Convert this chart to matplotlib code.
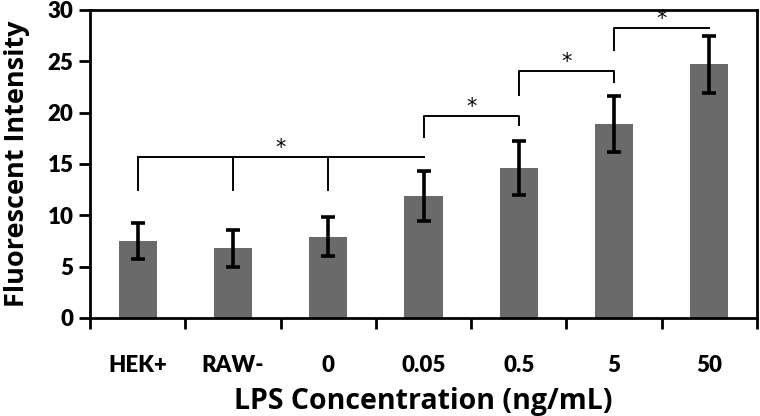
import numpy as np
import matplotlib.pyplot as plt

plt.rcParams['font.family'] = ['Lato', 'DejaVu Sans']

labels = ['HEK+', 'RAW-', '0', '0.05', '0.5', '5', '50']
means = [7.5, 6.8, 7.9, 11.9, 14.6, 18.9, 24.7]
errs = [1.8, 1.8, 1.9, 2.45, 2.6, 2.75, 2.8]

fig = plt.figure(figsize=(7.6, 4.16), dpi=100)
ax = fig.add_axes([90/760, 98/416, 667/760, 308/416])

x = np.arange(len(labels))
ax.bar(x, means, width=0.4, color='#6a6a6a', zorder=2)
ax.errorbar(x, means, yerr=errs, fmt='none', ecolor='black', elinewidth=2.6,
            capsize=5, capthick=2.6, zorder=3)

# big bracket HEK+..0 running to 0.05
ax.plot([0, 3], [15.7, 15.7], color='black', lw=1.4)
for i in [0, 1, 2]:
    ax.plot([i, i], [12.5, 15.7], color='black', lw=1.4)
ax.text(1.5, 16.6, '*', ha='center', va='center', fontsize=15, family='DejaVu Sans')

for (a, b), top, legs, star in [((3, 4), 19.7, (17.65, 18.75), 20.6),
                                 ((4, 5), 24.1, (21.7, 23.0), 24.9),
                                 ((5, 6), 28.2, (26.1, 28.2), 29.1)]:
    ax.plot([a, a, b, b], [legs[0], top, top, legs[1]], color='black', lw=1.4)
    ax.text((a + b) / 2, star, '*', ha='center', va='center', fontsize=15,
            family='DejaVu Sans')

ax.set_xlim(-0.5, 6.5)
ax.set_ylim(0, 30)
ax.set_yticks(range(0, 31, 5))
ax.set_xticks(x)
ax.set_xticklabels(labels)
ax.set_xticks(np.arange(-0.5, 7, 1), minor=True)
ax.tick_params(axis='x', which='major', length=0, pad=27, labelsize=16)
ax.tick_params(axis='x', which='minor', length=8, width=2, direction='out')
ax.tick_params(axis='y', length=8, width=2, labelsize=16, pad=4)
for lab in ax.get_xticklabels() + ax.get_yticklabels():
    lab.set_fontweight('heavy')
for s in ax.spines.values():
    s.set_linewidth(2)

ax.set_xlabel('LPS Concentration (ng/mL)', fontsize=20.5, fontweight='bold',
              family='Open Sans')
ax.set_ylabel('Fluorescent Intensity', fontsize=19.5, fontweight='bold',
              family='Open Sans')
ax.xaxis.set_label_coords(0.5, -0.225)
ax.yaxis.set_label_coords(-0.09, 0.5)

fig.savefig('out.png', dpi=100)
